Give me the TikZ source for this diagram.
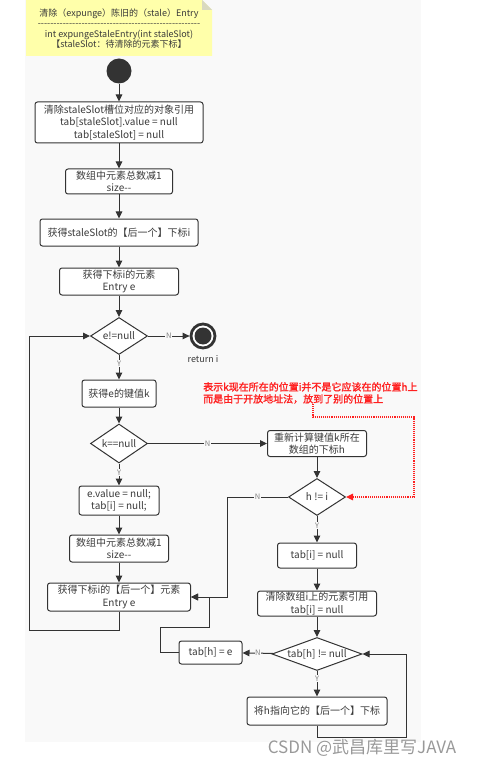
\documentclass[tikz,border=0pt]{standalone}
\usepackage{fontspec}
\setmainfont{Noto Sans CJK SC}
\newfontfamily\memofont[FakeBold=1.5]{Noto Sans CJK SC}
\usetikzlibrary{arrows.meta,shapes.geometric}

\definecolor{linec}{HTML}{333333}
\definecolor{txtc}{HTML}{3A3A3A}
\definecolor{notey}{HTML}{FFFFAA}
\definecolor{foldc}{HTML}{D9D9C0}
\definecolor{bgc}{HTML}{F9F9F9}
\definecolor{memored}{HTML}{FF2020}

\tikzset{
	flowbox/.style 2 args={draw=linec, line width=1pt, rounded corners=2.5pt, fill=white,
		text=txtc, align=center, inner sep=0pt, minimum width=#1pt, minimum height=#2pt,
		font=\fontsize{10}{12.5}\selectfont},
	decide/.style 2 args={diamond, draw=linec, line width=1pt, fill=white, text=txtc,
		inner sep=0pt, minimum width=#1pt, minimum height=#2pt,
		font=\fontsize{10}{12}\selectfont},
	flow/.style={draw=linec, line width=1pt, -{Triangle[length=7pt,width=6.5pt]}},
	yn/.style={fill=bgc, text=gray, inner sep=0.6pt, font=\fontsize{7.5}{8}\selectfont},
	memoline/.style={draw=memored, line width=1.1pt, densely dotted,
		-{Triangle[length=7pt,width=6.5pt]}},
}

\begin{document}
\begin{tikzpicture}[x=1pt,y=-1pt]
			\def\MainX{119}
			\def\SideX{317}
			\useasboundingbox (0,0) rectangle (485,767);
			\fill[bgc] (25,0) rectangle (421,742);
			% note
			\fill[notey] (26,0) -- (202,0) -- (212,10) -- (212,56) -- (26,56) -- cycle;
			\fill[foldc] (202,0) -- (212,10) -- (202,10) -- cycle;
			\node[text=txtc, align=center, inner sep=0pt, font=\fontsize{9}{10.3}\selectfont] (note) at (\MainX,28.5)
				{清除（expunge）陈旧的（stale）Entry\\
				 \foreach \k in {1,...,52}{-}\\
				 int expungeStaleEntry(int staleSlot)\\
				 【staleSlot：待清除的元素下标】};

			\node[circle, fill=linec, minimum size=25pt, inner sep=0pt] (start) at (\MainX,71) {};
			\node[flowbox={168}{41}] (b1) at (\MainX,122.5) {清除staleSlot槽位对应的对象引用\\tab[staleSlot].value = null\\tab[staleSlot] = null};
			\node[flowbox={107}{25}] (b2) at (\MainX,181.5) {数组中元素总数减1\\size-{}-};
			\node[flowbox={158}{27}] (b3) at (\MainX,232.5) {获得staleSlot的【后一个】下标i};
			\node[flowbox={119}{27}] (b4) at (\MainX,281.5) {获得下标i的元素\\Entry e};
			\node[decide={57}{37}] (d1) at (\MainX,336) {\makebox[0pt]{e!=null}};
			\node[circle, draw=linec, line width=2.8pt, fill=white, minimum size=24pt, inner sep=0pt] (end) at (203,336) {};
			\fill[linec] (end) circle (8.5pt);
			\node[text=txtc, font=\fontsize{9}{10}\selectfont] (ret) at (203,359) {return i};
			\node[flowbox={74}{27}] (b5) at (\MainX,393.5) {获得e的键值k};
			\node[decide={57}{39}] (d2) at (\MainX,443.5) {\makebox[0pt]{k==null}};
			\node[flowbox={80}{29}] (b6) at (\MainX,500.5) {e.value = null;\\tab[i] = null;};
			\node[flowbox={99}{27}] (b7) at (\MainX,548.5) {数组中元素总数减1\\size-{}-};
			\node[flowbox={143}{28}] (b8) at (\MainX,597) {获得下标i的【后一个】元素\\Entry e};

			\node[flowbox={99}{26}] (b9) at (\SideX,443.5) {重新计算键值k所在\\数组的下标h};
			\node[decide={57}{37}] (d3) at (\SideX,497) {\makebox[0pt]{h != i}};
			\node[flowbox={79}{25}] (b10) at (\SideX,555.5) {tab[i] = null};
			\node[flowbox={119}{25}] (b11) at (\SideX,603.5) {清除数组i上的元素引用\\tab[i] = null};
			\node[decide={90}{33}] (d4) at (\SideX,654) {\makebox[0pt]{tab[h] != null}};
			\node[flowbox={140}{28}] (b12) at (\SideX,711) {将h指向它的【后一个】下标};
			\node[flowbox={63}{23}] (b13) at (210.5,652.5) {tab[h] = e};

			\node[anchor=north west, align=left, inner sep=0pt, text=memored,
				font=\fontsize{10}{12}\memofont] (memo) at (203,382)
				{表示k现在所在的位置i并不是它应该在的位置h上\\而是由于开放地址法，放到了别的位置上};

			\coordinate (c1) at (227,497);
			\coordinate (c2) at (160,627);
			\coordinate (c3) at (209,597);
			\coordinate (c4) at (406,737);
			\coordinate (lp) at (29,630);
			\coordinate (c5) at (313,417);
			\coordinate (c6) at (414,497);

			\foreach \a/\b in {start/b1,b1/b2,b2/b3,b3/b4,b4/d1,b5/d2,b6/b7,b7/b8,b9/d3,b10/b11,b11/d4}
				\draw[flow] (\a) -- (\b);
			\draw[flow] (d1) -- node[yn] {N} (end);
			\draw[flow] (d1) -- node[yn, pos=0.35] {Y} (b5);
			\draw[flow] (d2) -- node[yn] {N} (b9);
			\draw[flow] (d2) -- node[yn, pos=0.4] {Y} (b6);
			\draw[flow] (d3) -- node[yn, pos=0.35] {Y} (b10);
			\draw[flow] (d4) -- node[yn] {N} (b13);
			\draw[flow] (d4) -- node[yn, pos=0.3] {Y} (b12);
			% loops back
			\draw[flow] (b8.south) |- (lp) |- (d1.west);
			\draw[flow] (d3.west) -- node[yn] {N} (c1) |- (b8.east);
			\draw[flow] (b13.west) -| (c2) -| (c3) -- (b8.east);
			\draw[flow] (b12.south) |- (c4) |- (d4.east);
			\draw[memoline] (c5 |- memo.south) -- (c5) -| (c6) -- (d3.east);

			\node[text=gray!80, font=\fontsize{17}{18}\selectfont] (mark) at (362,748) {CSDN @武昌库里写JAVA};
		\end{tikzpicture}
\end{document}
